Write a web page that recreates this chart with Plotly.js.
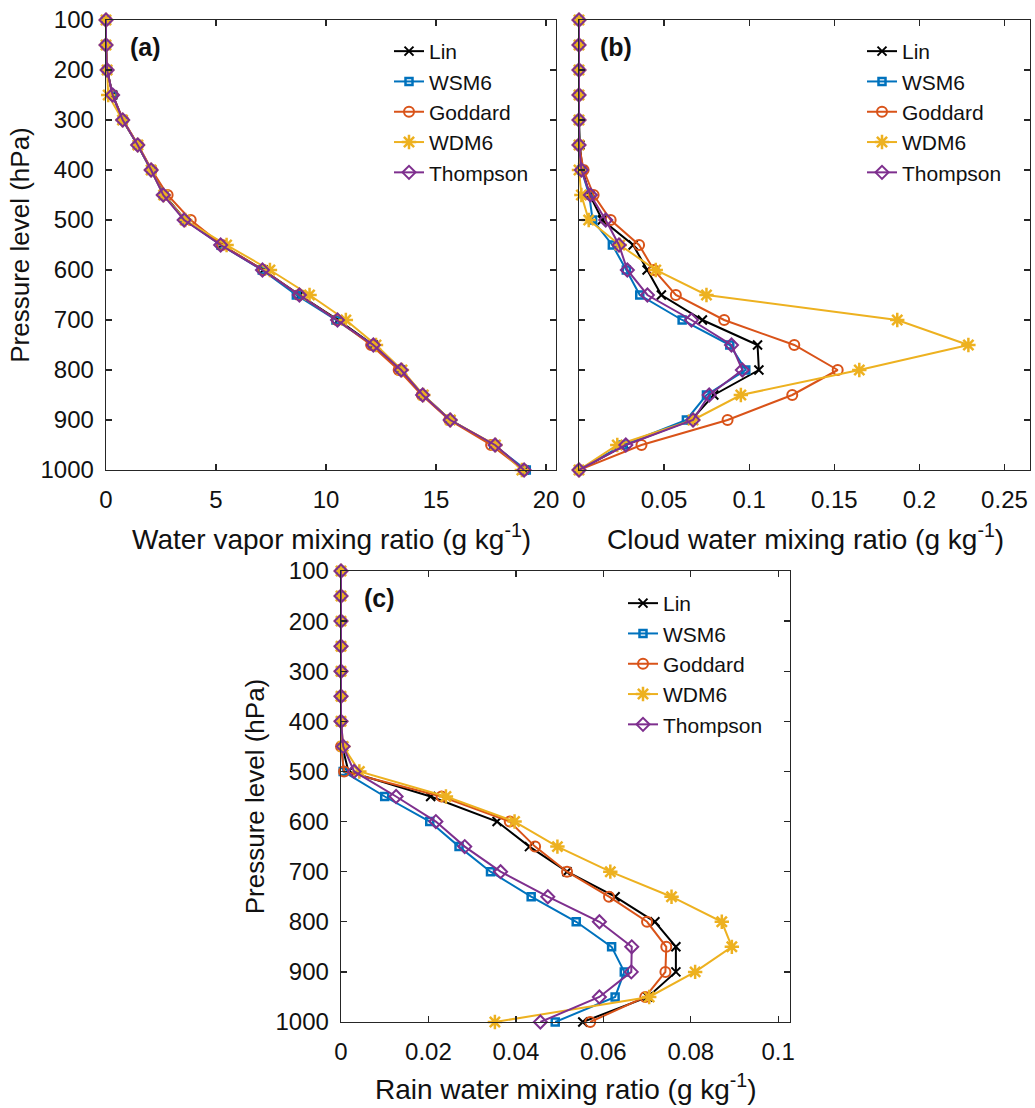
<!DOCTYPE html>
<html>
<head>
<meta charset="utf-8">
<script src="https://cdn.plot.ly/plotly-3.0.1.min.js"></script>
<style>html,body{margin:0;padding:0;background:#fff}#chart{width:1035px;height:1108px}</style>
</head>
<body>
<div id="chart"></div>
<script>
// Pressure levels (hPa)
const pressure = [100,150,200,250,300,350,400,450,500,550,600,650,700,750,800,850,900,950,1000];
const schemes = ['Lin','WSM6','Goddard','WDM6','Thompson'];

// (a) Water vapor mixing ratio (g/kg)
const vaporLin      = [0,0,0.05,0.3,0.76,1.44,2.05,2.65,3.6,5.25,7.15,8.8,10.55,12.15,13.4,14.4,15.65,17.65,19.0];
const vaporWSM6     = [0,0,0.05,0.3,0.76,1.44,2.05,2.62,3.58,5.22,7.1,8.65,10.45,12.12,13.38,14.42,15.64,17.62,19.1];
const vaporGoddard  = [0,0,0.05,0.3,0.78,1.46,2.08,2.8,3.85,5.28,7.15,8.78,10.5,12.05,13.3,14.35,15.6,17.5,18.98];
const vaporWDM6     = [0,0,0.05,0.1,0.75,1.45,2.05,2.62,3.6,5.48,7.45,9.25,10.9,12.27,13.45,14.42,15.65,17.7,18.9];
const vaporThompson = [0,0,0.05,0.3,0.76,1.44,2.05,2.6,3.55,5.21,7.11,8.79,10.52,12.15,13.41,14.39,15.64,17.68,19.0];

// (b) Cloud water mixing ratio (g/kg)
const cloudLin      = [0,0,0,0,0,0.0005,0.002,0.0063,0.0137,0.0318,0.040,0.0484,0.0725,0.1049,0.1057,0.0792,0.066,0.027,0];
const cloudWSM6     = [0,0,0,0,0,0,0.0015,0.006,0.008,0.0196,0.0278,0.0357,0.0606,0.0886,0.098,0.0749,0.0631,0.0259,0];
const cloudGoddard  = [0,0,0,0,0,0,0.0027,0.0086,0.0186,0.0353,0.044,0.0569,0.0853,0.1265,0.152,0.1253,0.0873,0.0367,0];
const cloudWDM6     = [0,0,0,0,0,0,0,0.0014,0.0057,0.024,0.0451,0.0749,0.187,0.2288,0.1647,0.0951,0.067,0.0225,0];
const cloudThompson = [0,0,0,0,0,0,0.0014,0.0067,0.0157,0.0235,0.0284,0.0402,0.0661,0.0896,0.096,0.0765,0.067,0.0275,0];

// (c) Rain water mixing ratio (g/kg)
const rainLin      = [0,0,0,0,0,0,0,0.0003,0.0017,0.0205,0.0357,0.0431,0.0517,0.0627,0.0718,0.0766,0.0766,0.0702,0.0553];
const rainWSM6     = [0,0,0,0,0,0,0,0.0003,0.0005,0.010,0.0203,0.027,0.0342,0.0435,0.0538,0.0619,0.0648,0.0627,0.049];
const rainGoddard  = [0,0,0,0,0,0,0,0,0.0007,0.023,0.0386,0.0444,0.0517,0.0613,0.070,0.0744,0.0742,0.0696,0.057];
const rainWDM6     = [0,0,0,0,0,0,0,0.0005,0.0042,0.024,0.0397,0.0495,0.0616,0.0756,0.0871,0.0894,0.081,0.0705,0.0352];
const rainThompson = [0,0,0,0,0,0,0,0.0005,0.003,0.0126,0.0217,0.0283,0.0365,0.0473,0.0591,0.0665,0.0664,0.0591,0.0456];

const colors = ['#000000','#0072BD','#D95319','#EDB120','#7E2F8E'];
const symbols = ['x-thin-open','square-open','circle-open','asterisk-open','diamond-open'];
const msizes = [9,7,10,12,10];
const mwidths = [2,2.5,2,2.5,2];

const W = 1035, H = 1108;
const FONT = 'Liberation Sans, Arial, Helvetica, sans-serif';
const ink = '#262626';

const panels = [
  {xa:'x', ya:'y', leg:'legend', data:[vaporLin,vaporWSM6,vaporGoddard,vaporWDM6,vaporThompson]},
  {xa:'x2', ya:'y2', leg:'legend2', data:[cloudLin,cloudWSM6,cloudGoddard,cloudWDM6,cloudThompson]},
  {xa:'x3', ya:'y3', leg:'legend3', data:[rainLin,rainWSM6,rainGoddard,rainWDM6,rainThompson]}
];

const traces = [];
panels.forEach(p => {
  p.data.forEach((vals, i) => {
    traces.push({
      type:'scatter', mode:'lines+markers',
      x: vals, y: pressure, name: schemes[i],
      xaxis: p.xa, yaxis: p.ya, legend: p.leg,
      cliponaxis: false,
      line:{color:colors[i], width:2},
      marker:{symbol:symbols[i], size:msizes[i], color:colors[i], line:{color:colors[i], width:mwidths[i]}},
      hoverinfo:'skip'
    });
  });
});

function px(x){return x/W;}
function py(y){return 1 - y/H;}

function xax(domain, range, dtick){
  return {
    domain: domain, range: range, dtick: dtick, tick0: 0,
    showline:true, linecolor:ink, linewidth:1.3, mirror:'ticks',
    ticks:'inside', ticklen:6, tickwidth:1.3, tickcolor:ink,
    showgrid:false, zeroline:false, ticklabelstandoff: 8,
    tickfont:{family:FONT, size:24, color:'#111'}
  };
}
function yax(domain, anchor, withLabels){
  return {
    domain: domain, range:[1000,100], dtick:100, tick0:100, anchor: anchor,
    showline:true, linecolor:ink, linewidth:1.3, mirror:'ticks',
    ticks:'inside', ticklen:6, tickwidth:1.3, tickcolor:ink,
    showgrid:false, zeroline:false, ticklabelstandoff: 6,
    showticklabels: withLabels,
    tickfont:{family:FONT, size:24, color:'#111'},
    title: withLabels ? {text:'Pressure level (hPa)', font:{family:FONT, size:26, color:'#111'}, standoff:3} : {text:''}
  };
}
function leg(x, y){
  return {x:px(x), y:py(y), xanchor:'left', yanchor:'top', bgcolor:'rgba(0,0,0,0)', borderwidth:0,
          font:{family:FONT, size:21, color:'#111'}, tracegroupgap:0};
}
function note(text, x, y, size){
  return {text:text, x:px(x), y:py(y), xref:'paper', yref:'paper', xanchor:'center', yanchor:'middle',
          showarrow:false, font:{family:FONT, size:size, color:'#111'}};
}

const layout = {
  width: W, height: H,
  margin:{l:0, r:0, t:0, b:0},
  paper_bgcolor:'#fff', plot_bgcolor:'#fff',
  showlegend: true,
  xaxis:  Object.assign(xax([px(106), px(556)], [0,20.45], 5), {anchor:'y'}),
  xaxis2: Object.assign(xax([px(579), px(1030)], [0,0.265], 0.05), {anchor:'y2'}),
  xaxis3: Object.assign(xax([px(341), px(790)], [0,0.1027], 0.02), {anchor:'y3'}),
  yaxis:  yax([py(470), py(20)], 'x', true),
  yaxis2: yax([py(470), py(20)], 'x2', false),
  yaxis3: yax([py(1022), py(571)], 'x3', true),
  legend:  leg(389, 31),
  legend2: leg(862, 31),
  legend3: leg(623, 583),
  annotations: [
    note('Water vapor mixing ratio (g kg<sup>-1</sup>)', 331, 537, 28),
    note('Cloud water mixing ratio (g kg<sup>-1</sup>)', 805, 537, 28),
    note('Rain water mixing ratio (g kg<sup>-1</sup>)', 566, 1087, 28),
    {text:'<b>(a)</b>', x:px(128), y:py(47), xref:'paper', yref:'paper', xanchor:'left', yanchor:'middle', showarrow:false, font:{family:FONT, size:25, color:'#111'}},
    {text:'<b>(b)</b>', x:px(598), y:py(47), xref:'paper', yref:'paper', xanchor:'left', yanchor:'middle', showarrow:false, font:{family:FONT, size:25, color:'#111'}},
    {text:'<b>(c)</b>', x:px(362), y:py(598), xref:'paper', yref:'paper', xanchor:'left', yanchor:'middle', showarrow:false, font:{family:FONT, size:25, color:'#111'}}
  ]
};

Plotly.newPlot('chart', traces, layout, {staticPlot:true, displayModeBar:false});
</script>
</body>
</html>
